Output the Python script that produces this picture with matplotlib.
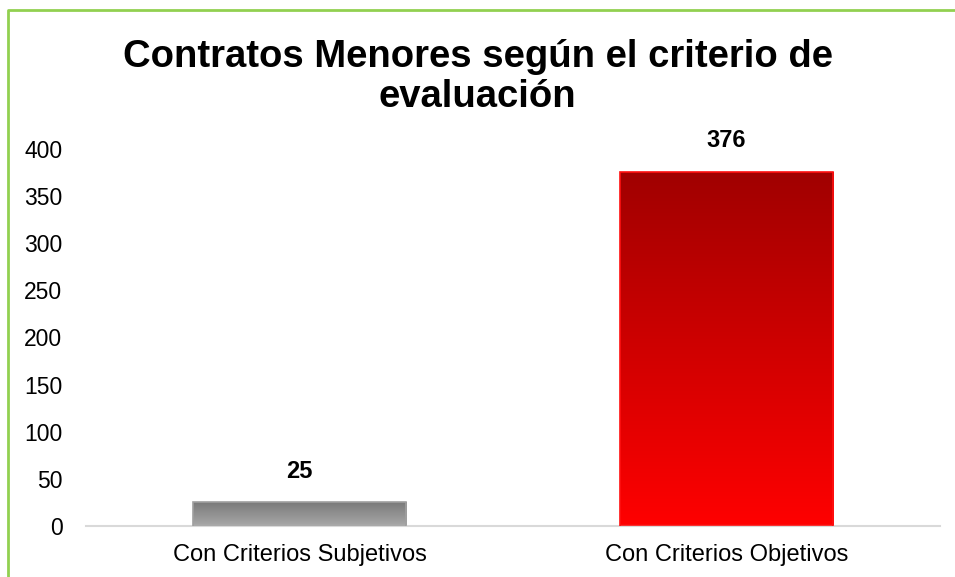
import numpy as np
import matplotlib.pyplot as plt
from matplotlib.colors import LinearSegmentedColormap
from matplotlib.lines import Line2D

categories = ['Con Criterios Subjetivos', 'Con Criterios Objetivos']
values = [25, 376]
# gradient colours, top -> bottom
grad_top = ['#7a7a7a', '#a00000']
grad_bottom = ['#a8a8a8', '#ff0000']
edge_colors = ['#a0a0a0', '#ff1010']

plt.rcParams['font.family'] = ['Liberation Sans', 'DejaVu Sans']

W, H = 955, 577
fig = plt.figure(figsize=(W / 100, H / 100), dpi=100)
ax = fig.add_axes([86 / W, 1 - 526 / H, (940 - 86) / W, (526 - 149) / H])

x = np.arange(len(categories))
bars = ax.bar(x, values, width=0.5, color='none', edgecolor=edge_colors, linewidth=1.2, zorder=3)

grad = np.linspace(0, 1, 256).reshape(-1, 1)
for i, b in enumerate(bars):
    cmap = LinearSegmentedColormap.from_list('g%d' % i, [grad_top[i], grad_bottom[i]])
    x0, y0 = b.get_x(), b.get_y()
    im = ax.imshow(grad, cmap=cmap, aspect='auto', origin='upper',
                   extent=[x0, x0 + b.get_width(), y0, y0 + b.get_height()], zorder=2)
    im.set_clip_path(b)
    ax.annotate(str(values[i]), (b.get_x() + b.get_width() / 2, values[i]),
                xytext=(0, 14), textcoords='offset points',
                ha='center', va='bottom', fontsize=17, fontweight='bold')

ax.set_xlim(-0.5, 1.5)
ax.set_ylim(0, 400)
ax.set_yticks(range(0, 401, 50))
ax.set_xticks(x)
ax.set_xticklabels(categories)
ax.tick_params(axis='y', length=0, labelsize=16.5, pad=17)
ax.tick_params(axis='x', length=0, labelsize=17, pad=13)
for s in ['top', 'right', 'left']:
    ax.spines[s].set_visible(False)
ax.spines['bottom'].set_color('#d9d9d9')
ax.spines['bottom'].set_linewidth(1.5)

fig.text(0.5, 1 - 77 / H, 'Contratos Menores según el criterio de\nevaluación',
         ha='center', va='center', fontsize=27.5, fontweight='bold', linespacing=1.12)

# green chart frame (left and top edges)
fig.add_artist(Line2D([8 / W, 8 / W, 1.0], [0.0, 1 - 10 / H, 1 - 10 / H],
                      transform=fig.transFigure, color='#92d050', linewidth=2))

fig.savefig('out.png', dpi=100)
